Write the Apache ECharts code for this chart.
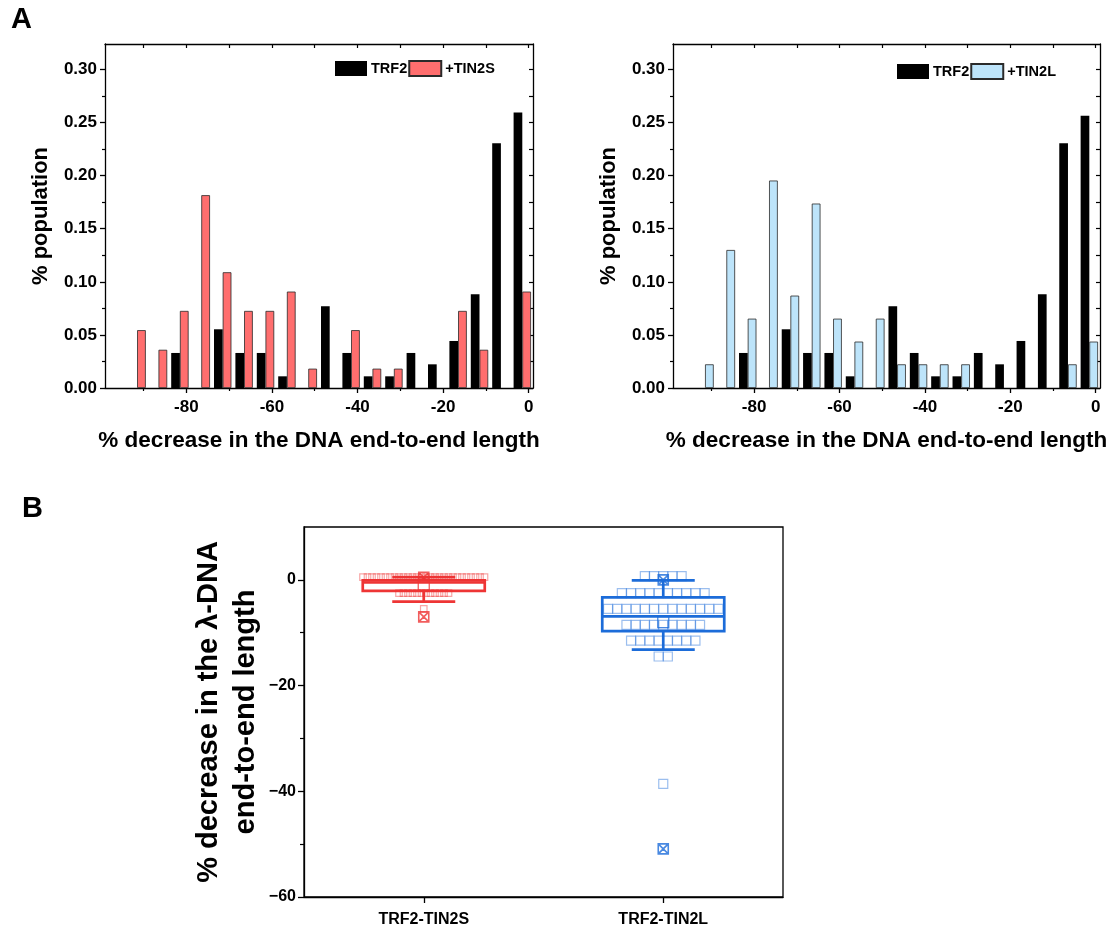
<!DOCTYPE html>
<html>
<head>
<meta charset="utf-8">
<script src="https://cdn.jsdelivr.net/npm/echarts@6/dist/echarts.min.js"></script>
<style>
html, body { margin: 0; padding: 0; background: #fff; }
#chart { width: 1113px; height: 933px; }
</style>
</head>
<body>
<div id="chart"></div>
<script>
// ---- panel A : histogram, centre of each bar pair and fraction of population
var binCenters = [-91.5, -86.5, -81.5, -76.5, -71.5, -66.5, -61.5, -56.5, -51.5, -46.5, -41.5, -36.5, -31.5, -26.5, -21.5, -16.5, -11.5, -6.5, -1.5];
var trf2Left  = [0, 0, 0.033, 0, 0.0553, 0.033, 0.033, 0.011, 0, 0.077, 0.033, 0.011, 0.011, 0.033, 0.0223, 0.0443, 0.0883, 0.2306, 0.2595];
var tin2s     = [0.0545, 0.036, 0.0726, 0.1816, 0.109, 0.0726, 0.0726, 0.0908, 0.0182, 0, 0.0545, 0.0182, 0.0182, 0, 0, 0.0726, 0.036, 0, 0.0908];
var trf2Right = [0, 0, 0.033, 0, 0.0553, 0.033, 0.033, 0.011, 0, 0.077, 0.033, 0.011, 0.011, 0.033, 0.0223, 0.0443, 0.0883, 0.2306, 0.2564];
var tin2l     = [0.0223, 0.130, 0.0653, 0.1954, 0.087, 0.1737, 0.0653, 0.0437, 0.0653, 0.0223, 0.0223, 0.0223, 0.0223, 0, 0, 0, 0, 0.0223, 0.0437];

var xMajor = [-80, -60, -40, -20, 0];
var xMinor = [-90, -70, -50, -30, -10];
var yMajor = [0, 0.05, 0.1, 0.15, 0.2, 0.25, 0.3];
var yMinor = [0.025, 0.075, 0.125, 0.175, 0.225, 0.275];

// ---- panel B : box plots with the single points
var boxCategories = ['TRF2-TIN2S', 'TRF2-TIN2L'];
// lower whisker, Q1, median, Q3, upper whisker
var boxTin2s = [-4.1, -2.1, -0.5, -0.1, 0.5];
var boxTin2l = [-13.2, -9.7, -6.9, -3.3, -0.1];
var meanTin2s = -0.9;
var meanTin2l = -8.0;
var extremesTin2s = [0.5, -7.0];
var extremesTin2l = [0, -50.9];
// rows of the swarm: value and how many points sit in it
var rowsTin2sValue = [0.5, -2.5, -5.5];
var rowsTin2sCount = [28, 12, 1];
var rowsTin2lValue = [0.7, -2.5, -5.5, -8.5, -11.5, -14.5, -38.6];
var rowsTin2lCount = [5, 10, 13, 9, 8, 2, 1];
var bYMajor = [-60, -40, -20, 0];
var bYMinor = [-50, -30, -10];

var FONT = 'Liberation Sans, Arial, sans-serif';
var RED = '#EE3535';
var BLUE = '#1C6CD9';
var crossSquare = 'path://M0,0L10,0L10,10L0,10Z M0,0L10,10 M10,0L0,10';

function pairs(xs, ys) {
  var out = [];
  for (var i = 0; i < xs.length; i++) {
    if (ys[i] > 0) out.push([xs[i], ys[i]]);
  }
  return out;
}

function swarm(xc, vals, counts, step) {
  var out = [];
  vals.forEach(function (v, r) {
    var n = counts[r];
    for (var i = 0; i < n; i++) {
      out.push({ value: [xc, v], symbolOffset: [(i - (n - 1) / 2) * step, 0] });
    }
  });
  return out;
}

var axisLine = { show: true, onZero: false, lineStyle: { color: '#000', width: 1.3 } };
var noLine = { show: false, onZero: false };
var labelStyle = { fontFamily: FONT, fontWeight: 'bold', color: '#000' };

// histogram axes for one grid
function histXAxes(g) {
  return [
    {
      gridIndex: g, type: 'value', min: -99, max: 1, position: 'bottom',
      axisLine: axisLine, splitLine: { show: false },
      axisTick: { show: true, length: 5, customValues: xMajor, lineStyle: { color: '#000', width: 1.3 } },
      axisLabel: Object.assign({ fontSize: 17, margin: 11, customValues: xMajor }, labelStyle),
      name: '% decrease in the DNA end-to-end length', nameLocation: 'middle', nameGap: 41,
      nameTextStyle: { fontFamily: FONT, fontWeight: 'bold', fontSize: 22.5, color: '#000' }
    },
    {
      gridIndex: g, type: 'value', min: -99, max: 1, position: 'bottom',
      axisLine: noLine, splitLine: { show: false }, axisLabel: { show: false },
      axisTick: { show: true, length: 3, customValues: xMinor, lineStyle: { color: '#000', width: 1.2 } }
    },
    {
      gridIndex: g, type: 'value', min: -99, max: 1, position: 'top',
      axisLine: axisLine, splitLine: { show: false }, axisLabel: { show: false },
      axisTick: { show: true, inside: true, length: 4, customValues: xMajor.concat(xMinor), lineStyle: { color: '#000', width: 1.2 } }
    }
  ];
}

function histYAxes(g) {
  return [
    {
      gridIndex: g, type: 'value', min: 0, max: 0.324, position: 'left',
      axisLine: axisLine, splitLine: { show: false },
      axisTick: { show: true, length: 5, customValues: yMajor, lineStyle: { color: '#000', width: 1.3 } },
      axisLabel: Object.assign({
        fontSize: 17, margin: 8, customValues: yMajor,
        formatter: function (v) { return v.toFixed(2); }
      }, labelStyle),
      name: '% population', nameLocation: 'middle', nameGap: 53,
      nameTextStyle: { fontFamily: FONT, fontWeight: 'bold', fontSize: 22, color: '#000' }
    },
    {
      gridIndex: g, type: 'value', min: 0, max: 0.324, position: 'left',
      axisLine: noLine, splitLine: { show: false }, axisLabel: { show: false },
      axisTick: { show: true, length: 3, customValues: yMinor, lineStyle: { color: '#000', width: 1.2 } }
    },
    {
      gridIndex: g, type: 'value', min: 0, max: 0.324, position: 'right',
      axisLine: axisLine, splitLine: { show: false }, axisLabel: { show: false },
      axisTick: { show: true, inside: true, length: 4, customValues: yMajor.concat(yMinor), lineStyle: { color: '#000', width: 1.2 } }
    }
  ];
}

function renderBox(params, api) {
  var x = api.value(0);
  var lo = api.coord([x, api.value(1)]);
  var q1 = api.coord([x, api.value(2)]);
  var md = api.coord([x, api.value(3)]);
  var q3 = api.coord([x, api.value(4)]);
  var hi = api.coord([x, api.value(5)]);
  var c = lo[0], hw = 61, cw = 31.5;
  var st = { stroke: api.visual('color'), lineWidth: 2.7, fill: 'none' };
  return {
    type: 'group',
    children: [
      { type: 'rect', shape: { x: c - hw, y: q3[1], width: 2 * hw, height: q1[1] - q3[1] }, style: st },
      { type: 'line', shape: { x1: c - hw, y1: md[1], x2: c + hw, y2: md[1] }, style: st },
      { type: 'line', shape: { x1: c, y1: q3[1], x2: c, y2: hi[1] }, style: st },
      { type: 'line', shape: { x1: c, y1: q1[1], x2: c, y2: lo[1] }, style: st },
      { type: 'line', shape: { x1: c - cw, y1: hi[1], x2: c + cw, y2: hi[1] }, style: st },
      { type: 'line', shape: { x1: c - cw, y1: lo[1], x2: c + cw, y2: lo[1] }, style: st }
    ]
  };
}

var legendBase = {
  icon: 'rect', itemWidth: 32, itemHeight: 15, itemGap: 1, padding: 0,
  textStyle: { fontFamily: FONT, fontWeight: 'bold', fontSize: 14.5, color: '#000', padding: [0, 0, 0, -1] }
};

var option = {
  animation: false,
  backgroundColor: '#fff',
  graphic: [
    { type: 'text', left: 11, top: 5, style: { text: 'A', fontFamily: FONT, fontWeight: 'bold', fontSize: 29, fill: '#000' } },
    { type: 'text', left: 22, top: 494, style: { text: 'B', fontFamily: FONT, fontWeight: 'bold', fontSize: 29, fill: '#000' } }
  ],
  legend: [
    Object.assign({ data: ['TRF2', '+TIN2S'], left: 335, top: 60 }, legendBase),
    Object.assign({ data: ['TRF2', '+TIN2L'], left: 897, top: 63 }, legendBase)
  ],
  grid: [
    { left: 105, top: 44, width: 428, height: 344 },
    { left: 673, top: 44, width: 427, height: 344 },
    { left: 304, top: 527, width: 479, height: 370, show: true, borderColor: '#000', borderWidth: 1.3 }
  ],
  xAxis: histXAxes(0).concat(histXAxes(1)).concat([
    {
      gridIndex: 2, type: 'category', data: boxCategories, position: 'bottom',
      axisLine: axisLine,
      axisTick: { show: true, alignWithLabel: true, length: 6, lineStyle: { color: '#000', width: 1.3 } },
      axisLabel: Object.assign({ fontSize: 16, margin: 15 }, labelStyle)
    },
    { gridIndex: 2, type: 'value', min: 0, max: 2, show: false, axisLine: noLine }
  ]),
  yAxis: histYAxes(0).concat(histYAxes(1)).concat([
    {
      gridIndex: 2, type: 'value', min: -60, max: 10, position: 'left',
      axisLine: axisLine, splitLine: { show: false },
      axisTick: { show: true, length: 6, customValues: bYMajor, lineStyle: { color: '#000', width: 1.3 } },
      axisLabel: Object.assign({
        fontSize: 16, margin: 8, customValues: bYMajor,
        formatter: function (v) { return v < 0 ? '\u2212' + (-v) : String(v); }
      }, labelStyle),
      name: '% decrease in the \u03bb-DNA\nend-to-end length', nameLocation: 'middle', nameGap: 35,
      nameTextStyle: { fontFamily: FONT, fontWeight: 'bold', fontSize: 29, lineHeight: 37, color: '#000' }
    },
    {
      gridIndex: 2, type: 'value', min: -60, max: 10, position: 'left',
      axisLine: noLine, splitLine: { show: false }, axisLabel: { show: false },
      axisTick: { show: true, length: 4, customValues: bYMinor, lineStyle: { color: '#000', width: 1.2 } }
    }
  ]),
  series: [
    {
      name: 'TRF2', type: 'bar', xAxisIndex: 0, yAxisIndex: 0, barWidth: 8.7, barGap: '0%',
      data: pairs(binCenters, trf2Left), itemStyle: { color: '#000' }
    },
    {
      name: '+TIN2S', type: 'bar', xAxisIndex: 0, yAxisIndex: 0, barWidth: 8.7, barGap: '0%',
      data: pairs(binCenters, tin2s), itemStyle: { color: '#FF6E6E', borderColor: '#2a2a2a', borderWidth: 0.8 }
    },
    {
      name: 'TRF2', type: 'bar', xAxisIndex: 3, yAxisIndex: 3, barWidth: 8.7, barGap: '0%',
      data: pairs(binCenters, trf2Right), itemStyle: { color: '#000' }
    },
    {
      name: '+TIN2L', type: 'bar', xAxisIndex: 3, yAxisIndex: 3, barWidth: 8.7, barGap: '0%',
      data: pairs(binCenters, tin2l), itemStyle: { color: '#BDE4FA', borderColor: '#2a2a2a', borderWidth: 0.8 }
    },
    // swarms
    {
      type: 'scatter', xAxisIndex: 7, yAxisIndex: 6, symbol: 'rect', symbolSize: 6.5,
      data: swarm(0.5, rowsTin2sValue, rowsTin2sCount, 4.5),
      itemStyle: { color: 'rgba(255,255,255,0)', borderColor: 'rgba(238,53,53,0.55)', borderWidth: 1.2 }
    },
    {
      type: 'scatter', xAxisIndex: 7, yAxisIndex: 6, symbol: 'rect', symbolSize: 9,
      data: swarm(1.5, rowsTin2lValue, rowsTin2lCount, 9.2),
      itemStyle: { color: 'rgba(255,255,255,0)', borderColor: 'rgba(28,108,217,0.55)', borderWidth: 1.2 }
    },
    // boxes
    {
      type: 'custom', xAxisIndex: 7, yAxisIndex: 6, renderItem: renderBox,
      encode: { x: 0, y: [1, 2, 3, 4, 5] },
      itemStyle: { color: RED }, data: [[0.5].concat(boxTin2s)]
    },
    {
      type: 'custom', xAxisIndex: 7, yAxisIndex: 6, renderItem: renderBox,
      encode: { x: 0, y: [1, 2, 3, 4, 5] },
      itemStyle: { color: BLUE }, data: [[1.5].concat(boxTin2l)]
    },
    // mean markers
    {
      type: 'scatter', xAxisIndex: 7, yAxisIndex: 6, symbol: 'rect', symbolSize: 11,
      data: [[0.5, meanTin2s]],
      itemStyle: { color: 'rgba(255,255,255,0)', borderColor: RED, borderWidth: 1.3 }
    },
    {
      type: 'scatter', xAxisIndex: 7, yAxisIndex: 6, symbol: 'rect', symbolSize: 11,
      data: [[1.5, meanTin2l]],
      itemStyle: { color: 'rgba(255,255,255,0)', borderColor: BLUE, borderWidth: 1.3 }
    },
    // min / max markers
    {
      type: 'scatter', xAxisIndex: 7, yAxisIndex: 6, symbol: crossSquare, symbolSize: 10,
      data: extremesTin2s.map(function (v) { return [0.5, v]; }),
      itemStyle: { color: 'rgba(255,255,255,0)', borderColor: RED, borderWidth: 1.6 }
    },
    {
      type: 'scatter', xAxisIndex: 7, yAxisIndex: 6, symbol: crossSquare, symbolSize: 10,
      data: extremesTin2l.map(function (v) { return [1.5, v]; }),
      itemStyle: { color: 'rgba(255,255,255,0)', borderColor: BLUE, borderWidth: 1.6 }
    }
  ]
};

var chart = echarts.init(document.getElementById('chart'));
chart.setOption(option);
</script>
</body>
</html>
